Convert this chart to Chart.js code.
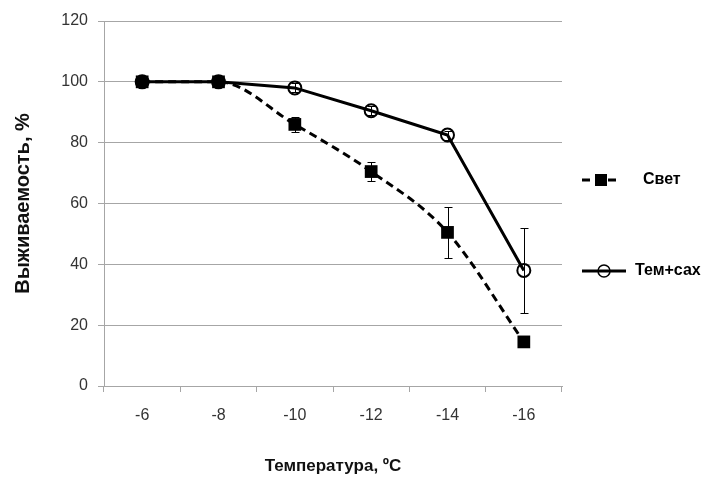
<!DOCTYPE html>
<html>
<head>
<meta charset="utf-8">
<script src="https://cdn.jsdelivr.net/npm/chart.js@4.4.1/dist/chart.umd.min.js"></script>
<style>
html,body{margin:0;padding:0;background:#fff;}
#wrap{width:703px;height:479px;}
</style>
</head>
<body>
<div id="wrap"><canvas id="c" width="703" height="479"></canvas></div>
<script>
// ---- data ----
const categories = ['-6', '-8', '-10', '-12', '-14', '-16'];
const svetLabel = 'Свет';
const svetValues = [100, 100, 86, 70.5, 50.5, 14.5];
const svetErrors = [0, 0, 2.5, 3, 8.4, 1];
const temLabel = 'Тем+сах';
const temValues = [100, 100, 98, 90.5, 82.5, 38];
const temErrors = [0, 0, 1.5, 1.5, 1.5, 14.1];
const yTicks = [0, 20, 40, 60, 80, 100, 120];
const xTitle = 'Температура, ºC';
const yTitle = 'Выживаемость, %';

const FONT = "'Liberation Sans', Arial, sans-serif";
const GRID = '#a6a6a6';

const errorBarPlugin = {
  id: 'errorBars',
  afterDatasetsDraw(chart) {
    const ctx = chart.ctx;
    const xs = chart.scales.x, ys = chart.scales.y;
    const sets = [svetErrors, temErrors];
    ctx.save();
    ctx.strokeStyle = '#000';
    ctx.lineWidth = 1;
    chart.data.datasets.forEach((ds, di) => {
      const errs = sets[di];
      ds.data.forEach((v, i) => {
        const e = errs[i];
        if (!e) return;
        const x = Math.round(xs.getPixelForValue(i)) + 0.5;
        const yt = Math.round(ys.getPixelForValue(v + e)) + 0.5;
        const yb = Math.round(ys.getPixelForValue(v - e)) + 0.5;
        ctx.beginPath();
        ctx.moveTo(x, yt); ctx.lineTo(x, yb);
        ctx.moveTo(x - 4, yt); ctx.lineTo(x + 4, yt);
        ctx.moveTo(x - 4, yb); ctx.lineTo(x + 4, yb);
        ctx.stroke();
      });
    });
    ctx.restore();
  }
};

const legendPlugin = {
  id: 'sideLegend',
  afterDraw(chart) {
    const ctx = chart.ctx;
    const a = chart.chartArea;
    const x0 = a.right + 20;
    const items = [
      {y: a.top + 159, dashed: true, marker: 'rect', textX: x0 + 61, w: 38},
      {y: a.top + 250, dashed: false, marker: 'circle', textX: x0 + 53, w: 44}
    ];
    ctx.save();
    chart.data.datasets.forEach((ds, i) => {
      const it = items[i];
      ctx.strokeStyle = '#000';
      ctx.lineWidth = 3;
      ctx.setLineDash(it.dashed ? [8, 5] : []);
      ctx.beginPath();
      ctx.moveTo(x0, it.y); ctx.lineTo(x0 + it.w, it.y);
      ctx.stroke();
      ctx.setLineDash([]);
      const cx = x0 + it.w / 2;
      if (it.marker === 'rect') {
        ctx.fillStyle = '#000';
        ctx.fillRect(cx - 6, it.y - 6, 12, 12);
      } else {
        ctx.lineWidth = 1.5;
        ctx.beginPath();
        ctx.arc(cx, it.y, 6, 0, Math.PI * 2);
        ctx.stroke();
      }
      ctx.fillStyle = '#000';
      ctx.font = "bold 16px " + FONT;
      ctx.textBaseline = 'middle';
      ctx.textAlign = 'left';
      ctx.fillText(ds.label, it.textX, it.y);
    });
    ctx.restore();
  }
};

new Chart(document.getElementById('c'), {
  type: 'line',
  data: {
    labels: categories,
    datasets: [
      {
        label: svetLabel,
        data: svetValues,
        borderColor: '#000',
        backgroundColor: '#000',
        borderWidth: 3,
        borderDash: [8, 5],
        cubicInterpolationMode: 'monotone',
        pointStyle: 'rect',
        pointRadius: 9,
        pointBorderWidth: 0,
        pointBackgroundColor: '#000',
        fill: false
      },
      {
        label: temLabel,
        data: temValues,
        borderColor: '#000',
        borderWidth: 3,
        tension: 0,
        pointStyle: 'circle',
        pointRadius: 6.5,
        pointBorderWidth: 2,
        pointBorderColor: '#000',
        pointBackgroundColor: 'rgba(255,255,255,0)',
        fill: false
      }
    ]
  },
  options: {
    responsive: false,
    animation: false,
    events: [],
    layout: {padding: {left: 8, top: 21, right: 141, bottom: 0}},
    plugins: {legend: {display: false}, tooltip: {enabled: false}},
    scales: {
      x: {
        type: 'category',
        offset: true,
        afterFit(s) { s.height = 93; },
        grid: {
          offset: true,
          drawOnChartArea: true,
          color: (c) => (c.index === categories.length ? GRID : 'rgba(0,0,0,0)'),
          tickColor: GRID,
          tickLength: 6,
          lineWidth: 1
        },
        border: {display: true, color: GRID, width: 1},
        ticks: {color: '#333', font: {family: FONT, size: 16}, padding: 14, maxRotation: 0},
        title: {display: true, text: xTitle, color: '#111', font: {family: FONT, size: 17, weight: 'bold'}, padding: {top: 0, bottom: 2}}
      },
      y: {
        min: 0,
        max: 120,
        afterFit(s) { s.width = 96; },
        afterBuildTicks(s) { s.ticks = yTicks.map(v => ({value: v})); },
        grid: {color: GRID, tickColor: GRID, tickLength: 6, lineWidth: 1},
        border: {display: true, color: GRID, width: 1},
        ticks: {color: '#333', font: {family: FONT, size: 16}, padding: 10},
        title: {display: true, text: yTitle, color: '#111', font: {family: FONT, size: 20, weight: 'bold'}, padding: {top: 3, bottom: 0}}
      }
    }
  },
  plugins: [errorBarPlugin, legendPlugin]
});
</script>
</body>
</html>
